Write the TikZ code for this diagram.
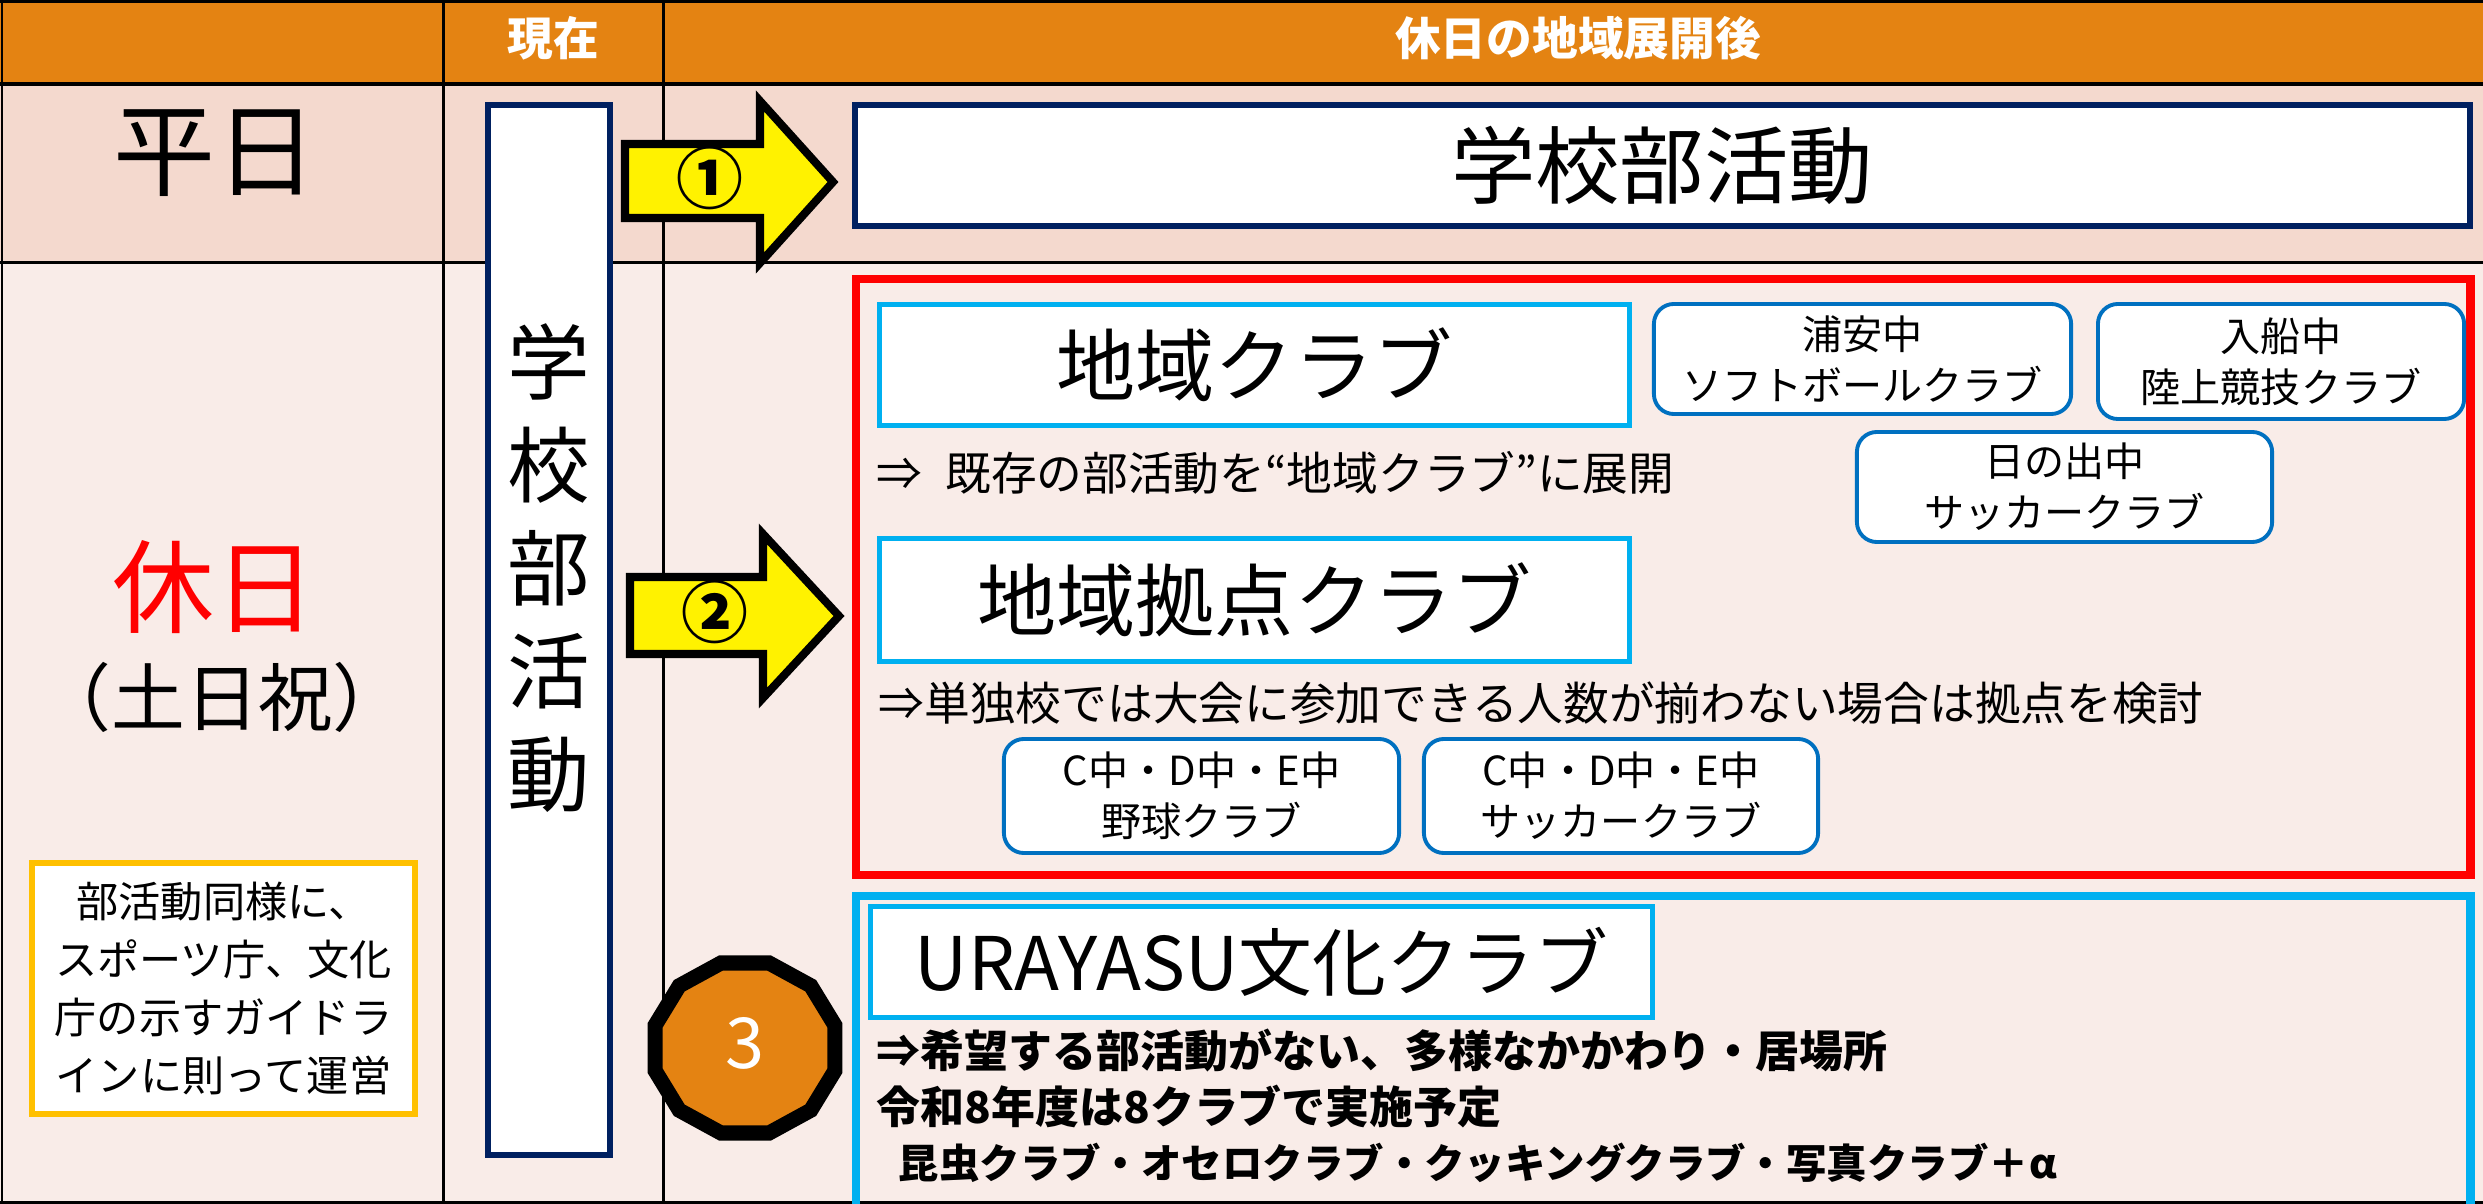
\documentclass[tikz,border=0pt]{standalone}
\usepackage{fontspec}
\setmainfont{Noto Sans CJK JP}

\definecolor{hdrorange}{RGB}{228,131,18}
\definecolor{rowtop}{RGB}{244,217,206}
\definecolor{rowbot}{RGB}{249,236,232}
\definecolor{navy}{RGB}{0,32,96}
\definecolor{skyblue}{RGB}{0,176,240}
\definecolor{clubblue}{RGB}{0,112,192}
\definecolor{gold}{RGB}{255,192,0}

\newcommand{\fsz}[2]{\fontsize{#1}{#2}\selectfont}

\tikzset{
  bigbox/.style={draw=skyblue,line width=1.4pt,fill=white,inner sep=0pt},
  clubbox/.style={draw=clubblue,line width=1.1pt,fill=white,rounded corners=0.2cm,inner sep=0pt,align=center,font=\fsz{11.4pt}{14.5pt}},
  blockarrow/.style={draw=black,line width=2.3pt,fill=yellow,miter limit=10},
  note/.style={anchor=west,inner sep=0pt,font=\fsz{13pt}{15pt}},
  hdrtext/.style={text=white,font=\fsz{13pt}{15pt}\bfseries},
}

\begin{document}
\begin{tikzpicture}[x=0.01cm,y=-0.01cm]
\useasboundingbox (0,0) rectangle (2483,1204);

% table
\fill[hdrorange] (0,0) rectangle (2483,84);
\fill[rowtop] (0,84) rectangle (2483,263);
\fill[rowbot] (0,263) rectangle (2483,1204);
\draw[line width=0.85pt] (0,2) -- (2483,2);
\draw[line width=1.1pt] (0,84) -- (2483,84);
\draw[line width=0.85pt] (0,263) -- (2483,263);
\draw[line width=0.85pt] (0,1202) -- (2483,1202);
\foreach \x in {2,443,663} \draw[line width=0.85pt] (\x,0) -- (\x,1204);

\node[hdrtext] (hdrNow) at (553,38) {現在};
\node[hdrtext] (hdrAfter) at (1578,38) {休日の地域展開後};

% left column
\node[font=\fsz{29pt}{31pt}] (weekday) at (215,153) {平日};
\node[text=red,font=\fsz{29pt}{31pt}] (holiday) at (214,587) {休日};
\node[font=\fsz{21pt}{23pt}] (holidaySub) at (222,697) {（土日祝）};
\node[draw=gold,line width=1.7pt,fill=white,minimum width=3.83cm,minimum height=2.51cm,inner sep=0pt,align=center,font=\fsz{12pt}{16.5pt}] (guide) at (223.5,988.5) {部活動同様に、\\スポーツ庁、文化\\庁の示すガイドラ\\インに則って運営};

% now
\node[draw=navy,line width=1.7pt,fill=white,minimum width=1.22cm,minimum height=10.5cm] (schoolV) at (549,630) {};
\node[align=center,font=\fsz{23.5pt}{29.3pt}] (schoolVtxt) at (549,568) {学\\校\\部\\活\\動};

\draw[blockarrow] (625,144) -- (760,144) -- (760,101) -- (833,182) -- (760,263) -- (760,218) -- (625,218) -- cycle;
\node[font=\fsz{19pt}{20pt}\bfseries] (stepOne) at (710,178) {①};
\draw[blockarrow] (630,577) -- (763,577) -- (763,534) -- (839,616) -- (763,698) -- (763,654) -- (630,654) -- cycle;
\node[font=\fsz{19pt}{20pt}\bfseries] (stepTwo) at (715,612) {②};

\draw[line width=4.3pt,fill=hdrorange] ({745+93*cos(15)},{1048+88*sin(15)})
  \foreach \a in {45,75,...,345} { -- ({745+93*cos(\a)},{1048+88*sin(\a)}) } -- cycle;
\node[text=white,font=\fsz{20pt}{22pt}] (stepThree) at (745,1043) {3};

% after
\node[draw=navy,line width=1.7pt,fill=white,minimum width=16.14cm,minimum height=1.21cm,font=\fsz{24pt}{26pt}] (schoolH) at (1662,165.5) {学校部活動};

\node[draw=red,line width=2.3pt,minimum width=16.14cm,minimum height=5.96cm] (regionBox) at (1663,577) {};
\node[bigbox,minimum width=7.5cm,minimum height=1.21cm,font=\fsz{22.5pt}{24pt}] (chiiki) at (1254.5,365) {地域クラブ};
\node[clubbox,minimum width=4.17cm,minimum height=1.1cm] (urayasuChu) at (1862.5,359) {浦安中\\ソフトボールクラブ};
\node[clubbox,minimum width=3.66cm,minimum height=1.15cm] (irifuneChu) at (2281,361.5) {入船中\\陸上競技クラブ};
\node[clubbox,minimum width=4.15cm,minimum height=1.1cm] (hinodeChu) at (2064.5,487) {日の出中\\サッカークラブ};
\node[note] (chiikiNote) at (876,473) {⇒\hspace{0.5em}既存の部活動を“地域クラブ”に展開};
\node[bigbox,minimum width=7.5cm,minimum height=1.23cm,font=\fsz{22.5pt}{24pt}] (kyoten) at (1254.5,600) {地域拠点クラブ};
\node[note] (kyotenNote) at (878,703) {⇒単独校では大会に参加できる人数が揃わない場合は拠点を検討};
\node[clubbox,minimum width=3.95cm,minimum height=1.14cm] (cdeBase) at (1201.5,796) {C中・D中・E中\\野球クラブ};
\node[clubbox,minimum width=3.94cm,minimum height=1.14cm] (cdeSoccer) at (1621,796) {C中・D中・E中\\サッカークラブ};

\node[draw=skyblue,line width=2.3pt,minimum width=16.14cm,minimum height=3.4cm,anchor=north] (bunkaBox) at (1663,892) {};
\node[bigbox,minimum width=7.82cm,minimum height=1.11cm,font=\fsz{21pt}{23pt}] (urayasuBunka) at (1261.5,962) {URAYASU文化クラブ};
\node[note,font=\fsz{12.5pt}{14pt}\bfseries] (bunkaNoteA) at (876,1051) {⇒希望する部活動がない、多様なかかわり・居場所};
\node[note,font=\fsz{12.5pt}{14pt}\bfseries] (bunkaNoteB) at (876,1107) {令和8年度は8クラブで実施予定};
\node[note,font=\fsz{11.5pt}{14pt}\bfseries] (bunkaNoteC) at (898,1163) {昆虫クラブ・オセロクラブ・クッキングクラブ・写真クラブ＋α};
\end{tikzpicture}
\end{document}
